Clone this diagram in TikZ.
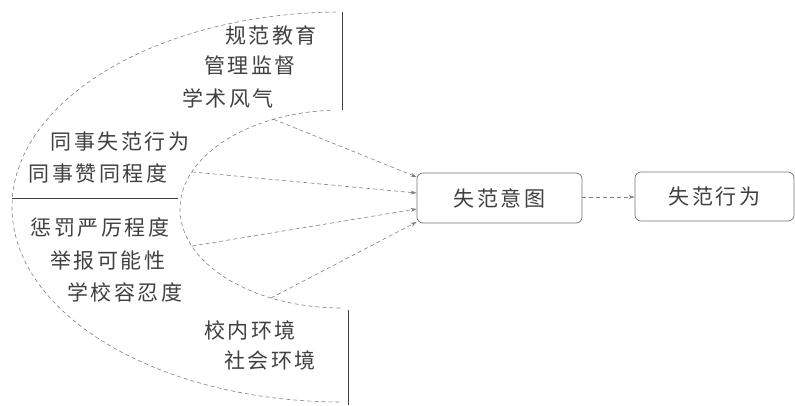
\documentclass[tikz,border=0pt]{standalone}
\usepackage{fontspec}
\newfontfamily\cjk[LetterSpace=12]{Noto Sans CJK SC}
\usetikzlibrary{arrows.meta,calc}
\begin{document}
\begin{tikzpicture}[x=1pt,y=-1pt,
  lbl/.style={font=\cjk\fontsize{21}{21}\selectfont, text=black!75, inner sep=0pt},
  dashline/.style={draw=black!50, dash pattern=on 4pt off 3pt, line width=0.6pt},
  solidline/.style={draw=black!75, line width=0.9pt},
  flow/.style={dashline, -{Stealth[length=6pt,width=4pt]}},
  boxst/.style={draw=black!55, rounded corners=6pt, line width=0.7pt,
    font=\cjk\fontsize{21}{21}\selectfont, text=black!75, inner sep=0pt}
]
\useasboundingbox (0,0) rectangle (795,405);

% ellipse centres
\coordinate (co) at (342,207);
\coordinate (ci) at (342,209);

% outer and inner dashed arcs
\draw[dashline] ($(co)+(-91:330 and 195)$) arc[start angle=-91, end angle=-270, x radius=330, y radius=195];
\draw[dashline] ($(ci)+(-94:162 and 99)$) arc[start angle=-94, end angle=-270, x radius=162, y radius=99];

% solid separators
\coordinate (t1) at (342,12);  \coordinate (t2) at (342,110);
\coordinate (h1) at (12,198);  \coordinate (h2) at (178,198);
\coordinate (b1) at (348,310); \coordinate (b2) at (348,405);
\draw[solidline] (t1) -- (t2);
\draw[solidline] (h1) -- (h2);
\draw[solidline] (b1) -- (b2);

% labels
\node[lbl] (l1) at (271,35) {规范教育};
\node[lbl] (l2) at (250,65) {管理监督};
\node[lbl] (l3) at (228,98) {学术风气};
\node[lbl] (l4) at (120,142) {同事失范行为};
\node[lbl] (l5) at (98,173) {同事赞同程度};
\node[lbl] (l6) at (100,227) {惩罚严厉程度};
\node[lbl] (l7) at (108,260) {举报可能性};
\node[lbl] (l8) at (125,292) {学校容忍度};
\node[lbl] (l9) at (250,330) {校内环境};
\node[lbl] (l10) at (270,360) {社会环境};

% boxes
\node[boxst, minimum width=165pt, minimum height=50pt] (intent) at (499.5,198) {失范意图};
\node[boxst, minimum width=159pt, minimum height=49pt] (behav) at (714.5,196.5) {失范行为};

% arrow start points on inner arc
\coordinate (s1) at ($(ci)+(-115:162 and 99)$);
\coordinate (s2) at ($(ci)+(-158:162 and 99)$);
\coordinate (s3) at ($(ci)+(158:162 and 99)$);
\coordinate (s4) at ($(ci)+(116:162 and 99)$);
\coordinate (e1) at ($(intent.west)+(0,-21)$);
\coordinate (e2) at ($(intent.west)+(0,-5)$);
\coordinate (e3) at ($(intent.west)+(0,11)$);
\coordinate (e4) at ($(intent.west)+(0,24)$);

\draw[flow] (s1) -- (e1);
\draw[flow] (s2) -- (e2);
\draw[flow] (s3) -- (e3);
\draw[flow] (s4) -- (e4);

\draw[flow] (intent.east |- 0,197) -- (behav.west |- 0,197);
\end{tikzpicture}
\end{document}
